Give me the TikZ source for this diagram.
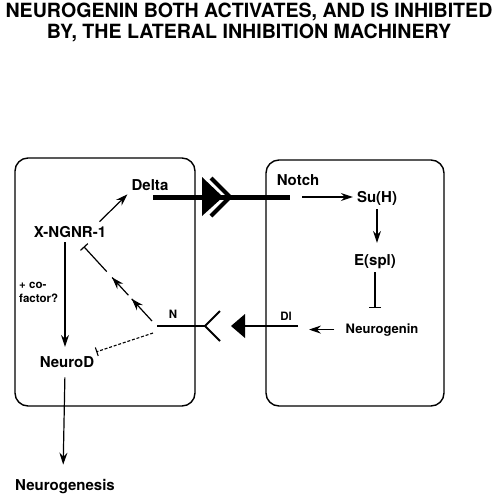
\documentclass[tikz,border=0pt]{standalone}
\usepackage{fontspec}
\setmainfont{TeX Gyre Heros}
\usepackage{tikz}
\usetikzlibrary{arrows.meta}
\usetikzlibrary{decorations.markings}

\begin{document}
\begin{tikzpicture}[x=1pt, y=-1pt,
    lbl/.style={font=\fontsize{15}{17}\selectfont\bfseries, inner sep=4pt, anchor=base},
    sml/.style={font=\fontsize{11.5}{13.5}\selectfont\bfseries, inner sep=0pt, anchor=base},
    act/.style={line width=1.2pt, -{Stealth[length=12pt, width=8pt, inset=4pt]}},
    inh/.style={line width=1.2pt, -{Bar[width=12pt]}},
    cell/.style={line width=1.4pt, rounded corners=13pt}]

        \useasboundingbox (0,0) rectangle (500,496);

        % title
        \node[font=\fontsize{19.6}{20.5}\selectfont\bfseries, align=center, anchor=north, inner sep=0pt]
            (title) at (249,3) {NEUROGENIN BOTH ACTIVATES, AND IS INHIBITED\\BY, THE LATERAL INHIBITION MACHINERY};

        % the two cells
        \draw[cell] (15,158) rectangle (195,406);
        \draw[cell] (266,160) rectangle (444,406);

        % left cell
        \node[lbl] (delta) at (150,190) {Delta};
        \node[lbl] (xngnr) at (70,237) {X-NGNR-1};
        \node[lbl] (neurod) at (67,367) {NeuroD};
        \node[lbl] (neurogenesis) at (65,490) {Neurogenesis};
        \node[sml, align=left, anchor=north west] (cofactor) at (19,282) {+ co-\\factor?};
        \node[sml] (nrec) at (173,318) {N};
        \coordinate (nfoot) at (157,326);
        \coordinate (nvertex) at (205,326);

        % right cell
        \node[lbl] (notch) at (298,185) {Notch};
        \node[lbl] (suh) at (377,202) {Su(H)};
        \node[lbl] (espl) at (375,265) {E(spl)};
        \node[lbl, font=\fontsize{13}{15}\selectfont\bfseries] (neurogenin) at (382,333) {Neurogenin};
        \node[sml] (dl) at (286,320) {Dl};
        \coordinate (deltafoot) at (153,197);
        \coordinate (notchfoot) at (290,197);
        \coordinate (dlfoot) at (298,326);

        % Delta binds Notch
        \draw[line width=5pt] (deltafoot) -- (notchfoot);
        \fill (202,177) -- (223,197) -- (202,216) -- cycle;
        \draw[line width=4pt, miter limit=10] (211,178) -- (230,197) -- (211,216);

        % Dl binds N
        \draw[line width=2.5pt] (dlfoot) -- (245,326);
        \fill (231,326) -- (245,314) -- (245,338) -- cycle;
        \draw[line width=2pt] (nfoot) -- (nvertex);
        \draw[line width=2pt] (220,311) -- (nvertex) -- (220,341);

        % left cell links
        \draw[act] ([xshift=-11pt]xngnr.north east) -- (delta.south west);
        \draw[act, shorten <=1pt, shorten >=5pt] ([xshift=-5pt]xngnr.south) -- ([xshift=-2pt]neurod.north);
        \draw[act, shorten <=6pt, shorten >=10pt] ([xshift=-2pt]neurod.south) -- ([xshift=-2pt]neurogenesis.north);
        \draw[line width=1.2pt, dash pattern=on 30pt off 5pt on 24pt off 8pt on 80pt,
            -{Bar[width=10pt]}, shorten >=7pt,
            postaction={decorate, decoration={markings,
                mark=at position 30pt with {\arrow{Stealth[length=12pt, width=8pt, inset=4pt]}},
                mark=at position 59pt with {\arrow{Stealth[length=12pt, width=8pt, inset=4pt]}}}}]
            ([shift={(-5,-5)}]nfoot) -- (xngnr);
        \draw[line width=1.1pt, dash pattern=on 3pt off 1.8pt, -{Bar[width=9pt]}]
            ([shift={(-4,7)}]nfoot) -- (neurod);

        % right cell links
        \draw[act, shorten <=12pt, shorten >=0pt] (notchfoot) -- (notchfoot -| suh.west);
        \draw[act, shorten >=7pt] (suh.south) -- (suh.south |- espl.north);
        \draw[inh, shorten >=11pt] (espl.south) -- (espl.south |- neurogenin.north);
        \draw[act, shorten <=7pt, shorten >=11pt] (neurogenin.west) -- (neurogenin.west -| dlfoot);
\end{tikzpicture}
\end{document}
